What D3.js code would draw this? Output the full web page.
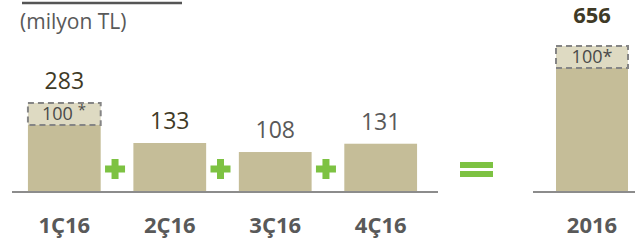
<!DOCTYPE html>
<html>
<head>
<meta charset="utf-8">
<script src="https://cdn.jsdelivr.net/npm/d3@7"></script>
<style>
  body { margin: 0; background: #fff; }
  svg { display: block; font-family: "Open Sans", "Noto Sans", sans-serif; }
</style>
</head>
<body>
<div id="chart"></div>
<script>
// donnees
var categories = ["1Ç16", "2Ç16", "3Ç16", "4Ç16"];
var valeurs = [283, 133, 108, 131];
var extra = [100, 0, 0, 0];      // part affichée en boîte pointillée
var totalLabel = "2016";
var totalValeur = 656;
var totalExtra = 100;
var unite = "(milyon TL)";

var W = 635, H = 242, base = 191;

var svg = d3.select("#chart").append("svg")
    .attr("width", W).attr("height", H);

var x = d3.scaleBand().domain(categories).range([10, 435]).paddingInner(0.31).paddingOuter(0.17);
var y = d3.scaleLinear().domain([0, 133]).range([base, base - 48]);
var yT = d3.scaleLinear().domain([0, totalValeur - totalExtra]).range([base, 68]);
var boxH = 22;

// trait du haut + unité
svg.append("line").attr("x1", 22).attr("x2", 182).attr("y1", 3).attr("y2", 3)
    .attr("stroke", "#555").attr("stroke-width", 2.5);
svg.append("text").attr("x", 20).attr("y", 29).text(unite)
    .attr("font-size", 21).attr("fill", "#595959");

// axes
svg.append("line").attr("x1", 12).attr("x2", 438).attr("y1", base + 1).attr("y2", base + 1)
    .attr("stroke", "#8c8c8c").attr("stroke-width", 2);
svg.append("line").attr("x1", 533).attr("x2", 635).attr("y1", base + 1).attr("y2", base + 1)
    .attr("stroke", "#8c8c8c").attr("stroke-width", 2);

var data = categories.map(function(c, i){ return {c: c, v: valeurs[i], e: extra[i]}; });

var g = svg.selectAll(".q").data(data).enter().append("g");
g.append("rect")
    .attr("x", d => x(d.c)).attr("width", x.bandwidth())
    .attr("y", d => y(d.v - d.e)).attr("height", d => base - y(d.v - d.e))
    .attr("fill", "#c5bd98");
g.filter(d => d.e > 0).append("rect")
    .attr("x", d => x(d.c)).attr("width", x.bandwidth())
    .attr("y", d => y(d.v - d.e) - boxH).attr("height", boxH)
    .attr("fill", "#dedac2").attr("stroke", "#858585").attr("stroke-width", 2)
    .attr("stroke-dasharray", "6,4");
g.filter(d => d.e > 0).append("text")
    .attr("x", d => x(d.c) + 14).attr("y", d => y(d.v - d.e) - 5)
    .attr("font-size", 18).attr("fill", "#4a4a4a")
    .text(d => d.e)
    .append("tspan").attr("dx", 5).attr("dy", -5).attr("font-size", 15).text("*");
g.append("text")
    .attr("x", d => x(d.c) + x.bandwidth() / 2)
    .attr("y", d => y(d.v - d.e) - (d.e > 0 ? boxH : 0) - 14)
    .attr("text-anchor", "middle").attr("font-size", 23)
    .attr("fill", d => (d.v == 108 || d.v == 131) ? "#595959" : "#3f3a26")
    .text(d => d.v);
g.append("text")
    .attr("x", d => x(d.c) + x.bandwidth() / 2).attr("y", 233)
    .attr("text-anchor", "middle").attr("font-size", 22).attr("font-weight", "bold")
    .attr("fill", "#595959").text(d => d.c);

// total 2016
var tx = 556, tw = 72;
svg.append("rect").attr("x", tx).attr("width", tw)
    .attr("y", yT(totalValeur - totalExtra)).attr("height", base - yT(totalValeur - totalExtra))
    .attr("fill", "#c5bd98");
svg.append("rect").attr("x", tx).attr("width", tw)
    .attr("y", yT(totalValeur - totalExtra) - boxH).attr("height", boxH)
    .attr("fill", "#dedac2").attr("stroke", "#858585").attr("stroke-width", 2)
    .attr("stroke-dasharray", "6,4");
svg.append("text").attr("x", tx + tw / 2).attr("y", yT(totalValeur - totalExtra) - 5)
    .attr("text-anchor", "middle").attr("font-size", 18).attr("fill", "#4a4a4a")
    .text(totalExtra + "*");
svg.append("text").attr("x", tx + tw / 2).attr("y", yT(totalValeur - totalExtra) - boxH - 23)
    .attr("text-anchor", "middle").attr("font-size", 22).attr("font-weight", "bold")
    .attr("fill", "#3f3a26").text(totalValeur);
svg.append("text").attr("x", tx + tw / 2).attr("y", 233)
    .attr("text-anchor", "middle").attr("font-size", 22).attr("font-weight", "bold")
    .attr("fill", "#595959").text(totalLabel);

// signes + et =
var vert = "#7dc242";
categories.slice(1).forEach(function(c){
    var cx = x(c) - (x.step() - x.bandwidth()) / 2 - 2, cy = 169;
    svg.append("rect").attr("x", cx - 10).attr("y", cy - 3.5).attr("width", 20).attr("height", 7).attr("fill", vert);
    svg.append("rect").attr("x", cx - 3.5).attr("y", cy - 10).attr("width", 7).attr("height", 20).attr("fill", vert);
});
svg.append("rect").attr("x", 460).attr("y", 162).attr("width", 33).attr("height", 6).attr("fill", vert);
svg.append("rect").attr("x", 460).attr("y", 171).attr("width", 33).attr("height", 6).attr("fill", vert);
</script>
</body>
</html>
